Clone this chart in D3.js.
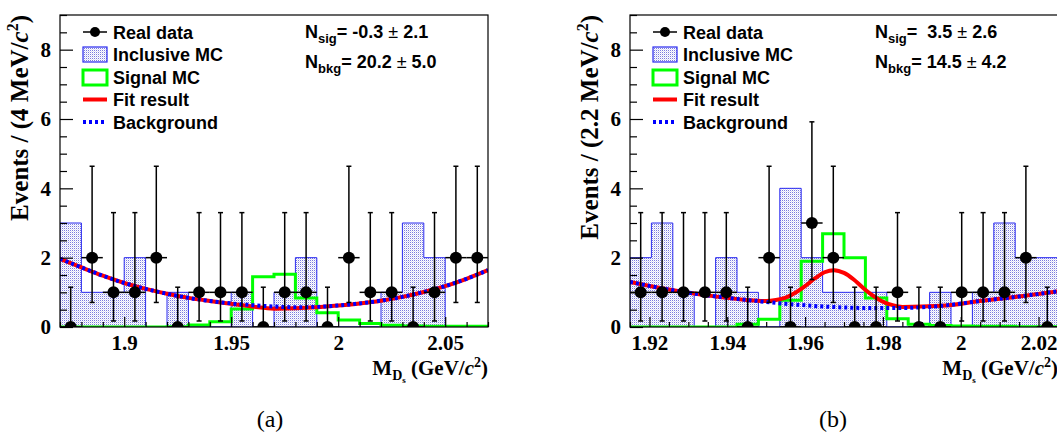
<!DOCTYPE html>
<html><head><meta charset="utf-8">
<script src="https://cdn.jsdelivr.net/npm/d3@7"></script>
<style>body{margin:0;background:#fff} svg{display:block}</style>
</head><body><svg id="c" width="1057" height="443"></svg>
<script>
// ---------------- DATA ----------------
const yTickValues = [0, 2, 4, 6, 8];
const yTickLabels = ["0", "2", "4", "6", "8"];

// Panel (a)
const aXTickValues = [1.9, 1.95, 2.0, 2.05];
const aXTickLabels = ["1.9", "1.95", "2", "2.05"];
const aBinEdges = [1.87,1.88,1.89,1.90,1.91,1.92,1.93,1.94,1.95,1.96,1.97,1.98,1.99,2.00,2.01,2.02,2.03,2.04,2.05,2.06,2.07];
const aDataX = [1.875,1.885,1.895,1.905,1.915,1.925,1.935,1.945,1.955,1.965,1.975,1.985,1.995,2.005,2.015,2.025,2.035,2.045,2.055,2.065];
const aDataY = [0,2,1,1,2,0,1,1,1,0,1,1,0,2,1,1,0,1,2,2];
const aInclusive = [3,1,1,2,0,1,0,0,1,0,1,2,0,0,0,1,3,2,0,0];
const aSignal = [0,0,0,0,0,0.01,0.06,0.15,0.52,1.45,1.52,0.84,0.41,0.20,0.10,0.05,0.03,0.02,0.02,0.02];
const aCurveX = [1.87,1.88,1.89,1.90,1.91,1.92,1.93,1.94,1.95,1.96,1.97,1.98,1.99,2.00,2.01,2.02,2.03,2.04,2.05,2.06,2.07];
const aBkg = [1.97,1.72,1.48,1.27,1.10,0.96,0.84,0.75,0.68,0.63,0.59,0.57,0.58,0.62,0.68,0.76,0.87,1.01,1.18,1.39,1.64];
const aFit = [1.97,1.72,1.48,1.27,1.10,0.96,0.84,0.75,0.67,0.59,0.53,0.54,0.57,0.62,0.68,0.76,0.87,1.01,1.18,1.39,1.64];
const aNsig = "-0.3", aNsigErr = "2.1", aNbkg = "20.2", aNbkgErr = "5.0";

// Panel (b)
const bXTickValues = [1.92, 1.94, 1.96, 1.98, 2.0, 2.02];
const bXTickLabels = ["1.92", "1.94", "1.96", "1.98", "2", "2.02"];
const bBinEdges = [1.915,1.9205,1.926,1.9315,1.937,1.9425,1.948,1.9535,1.959,1.9645,1.97,1.9755,1.981,1.9865,1.992,1.9975,2.003,2.0085,2.014,2.0195,2.025];
const bDataX = [1.91775,1.92325,1.92875,1.93425,1.93975,1.94525,1.95075,1.95625,1.96175,1.96725,1.97275,1.97825,1.98375,1.98925,1.99475,2.00025,2.00575,2.01125,2.01675,2.02225];
const bDataY = [1,1,1,1,1,0,2,0,3,2,0,0,1,0,0,1,1,1,2,0];
const bInclusive = [2,3,1,0,2,1,0,4,2,1,1,1,0,0,1,0,1,3,2,2];
const bSignal = [0,0,0,0,0,0.08,0.22,0.77,1.90,2.69,2.00,0.84,0.24,0.08,0.04,0.03,0.02,0.02,0.01,0.01];
const bBkgX = [1.915,1.925,1.935,1.945,1.955,1.965,1.975,1.985,1.995,2.005,2.015,2.025];
const bBkg = [1.30,1.08,0.91,0.78,0.67,0.59,0.55,0.55,0.61,0.75,0.88,1.03];
const bFitX = [1.915,1.925,1.935,1.945,1.950,1.9525,1.955,1.9575,1.960,1.9625,1.965,1.9675,1.970,1.9725,1.975,1.9775,1.980,1.9825,1.985,1.995,2.005,2.015,2.025];
const bFit = [1.30,1.08,0.91,0.78,0.75,0.78,0.85,0.99,1.18,1.40,1.58,1.64,1.56,1.37,1.12,0.90,0.73,0.63,0.58,0.61,0.75,0.88,1.03];
const bNsig = " 3.5", bNsigErr = "2.6", bNbkg = "14.5", bNbkgErr = "4.2";

// Poisson (68%) interval half-widths by observed count
const poisLow = [0, 0.827, 1.292, 1.633];
const poisHigh = [1.148, 2.299, 2.637, 2.918];

const legendLabels = ["Real data", "Inclusive MC", "Signal MC", "Fit result", "Background"];

// ---------------- DRAW ----------------
const svg = d3.select("#c");
const SERIF = "'Liberation Serif','Times New Roman',serif";
const SANS = "'Liberation Sans',Arial,Helvetica,sans-serif";
const FRAME_TOP = 15, FRAME_BOT = 327, FRAME_W = 428;
const y = d3.scaleLinear().domain([0, 9]).range([FRAME_BOT, FRAME_TOP]);

const defs = svg.append("defs");
const pat = defs.append("pattern").attr("id", "dots").attr("width", 2).attr("height", 2)
  .attr("patternUnits", "userSpaceOnUse");
pat.append("rect").attr("width", 2).attr("height", 2).attr("fill", "#ffffff");
pat.append("rect").attr("x", 0).attr("y", 0).attr("width", 1).attr("height", 1).attr("fill", "#7a7ade");
pat.append("rect").attr("x", 1).attr("y", 1).attr("width", 1).attr("height", 1).attr("fill", "#dcdcf6");

function drawPanel(p) {
  const x = d3.scaleLinear().domain(p.domain).range([p.left, p.left + FRAME_W]);
  const g = svg.append("g");
  const clipId = "clip" + p.id;
  defs.append("clipPath").attr("id", clipId).append("rect")
    .attr("x", p.left).attr("y", FRAME_TOP).attr("width", FRAME_W).attr("height", FRAME_BOT - FRAME_TOP);
  const plot = g.append("g").attr("clip-path", `url(#${clipId})`);

  // Inclusive MC histogram
  const incPts = p.inclusive.map((v, i) => [p.edges[i], v]).concat([[p.edges[p.edges.length - 1], p.inclusive[p.inclusive.length - 1]]]);
  const area = d3.area().x(d => x(d[0])).y0(y(0)).y1(d => y(d[1])).curve(d3.curveStepAfter);
  plot.append("path").attr("d", area(incPts)).attr("fill", "url(#dots)")
    .attr("stroke", "#2a2af0").attr("stroke-width", 1);

  // Signal MC histogram
  const sigPts = p.signal.map((v, i) => [p.edges[i], v]).concat([[p.edges[p.edges.length - 1], p.signal[p.signal.length - 1]]]);
  const line = d3.line().x(d => x(d[0])).y(d => y(d[1])).curve(d3.curveStepAfter);
  plot.append("path").attr("d", line(sigPts)).attr("fill", "none")
    .attr("stroke", "#00ff00").attr("stroke-width", 3);

  // Fit result (red) and background (blue dotted)
  const smooth = d3.line().x(d => x(d[0])).y(d => y(d[1])).curve(d3.curveMonotoneX);
  plot.append("path").attr("d", smooth(p.fitX.map((v, i) => [v, p.fit[i]])))
    .attr("fill", "none").attr("stroke", "#ff0000").attr("stroke-width", 4);
  plot.append("path").attr("d", smooth(p.bkgX.map((v, i) => [v, p.bkg[i]])))
    .attr("fill", "none").attr("stroke", "#0000ff").attr("stroke-width", 4)
    .attr("stroke-dasharray", "3,3");

  // Data points with errors
  const half = (p.edges[1] - p.edges[0]) / 2;
  const dg = plot.append("g").attr("stroke", "#000").attr("stroke-width", 1.5);
  p.dataX.forEach((xv, i) => {
    const n = p.dataY[i];
    const lo = n - poisLow[n], hi = n + poisHigh[n];
    const cx = x(xv);
    dg.append("line").attr("x1", cx).attr("x2", cx).attr("y1", y(lo)).attr("y2", y(hi));
    dg.append("line").attr("x1", cx - 2.5).attr("x2", cx + 2.5).attr("y1", y(hi)).attr("y2", y(hi));
    if (lo > 0) dg.append("line").attr("x1", cx - 2.5).attr("x2", cx + 2.5).attr("y1", y(lo)).attr("y2", y(lo));
    dg.append("line").attr("x1", x(xv - half)).attr("x2", x(xv + half)).attr("y1", y(n)).attr("y2", y(n));
  });
  plot.append("g").selectAll("circle").data(p.dataX).join("circle")
    .attr("cx", d => x(d)).attr("cy", (d, i) => y(p.dataY[i])).attr("r", 6).attr("fill", "#000");

  // Frame
  g.append("rect").attr("x", p.left).attr("y", FRAME_TOP).attr("width", FRAME_W).attr("height", FRAME_BOT - FRAME_TOP)
    .attr("fill", "none").attr("stroke", "#000").attr("stroke-width", 1.2);

  // Y axis
  const yAx = g.append("g").attr("transform", `translate(${p.left},0)`)
    .call(d3.axisLeft(y).tickValues(yTickValues).tickFormat((d, i) => yTickLabels[i]).tickSize(-13).tickPadding(9));
  const yMinor = g.append("g").attr("transform", `translate(${p.left},0)`)
    .call(d3.axisLeft(y).tickValues(d3.range(0, 9.01, 0.5).filter(v => v % 2 !== 0)).tickFormat("").tickSize(-7));
  // X axis
  const xAx = g.append("g").attr("transform", `translate(0,${FRAME_BOT})`)
    .call(d3.axisBottom(x).tickValues(p.xTicks).tickFormat((d, i) => p.xLabels[i]).tickSize(-10).tickPadding(8));
  const minors = d3.range(Math.ceil(p.domain[0] / p.minor - 1e-6), Math.floor(p.domain[1] / p.minor + 1e-6) + 1)
    .map(k => +(k * p.minor).toFixed(4)).filter(v => !p.xTicks.some(t => Math.abs(t - v) < 1e-6));
  const xMinor = g.append("g").attr("transform", `translate(0,${FRAME_BOT})`)
    .call(d3.axisBottom(x).tickValues(minors).tickFormat("").tickSize(-5));
  [yAx, yMinor, xAx, xMinor].forEach(a => {
    a.select(".domain").remove();
    a.selectAll("line").attr("stroke", "#000").attr("stroke-width", 1.2);
    a.selectAll("text").attr("font-family", SERIF).attr("font-weight", "bold").attr("font-size", 21).attr("fill", "#000");
  });

  // Y title
  const yt = g.append("text").attr("transform", `translate(${p.left - 32},${FRAME_TOP}) rotate(-90)`)
    .attr("text-anchor", "end").attr("font-family", SERIF).attr("font-weight", "bold").attr("font-size", 25);
  yt.append("tspan").text(`Events / (${p.binLabel} MeV/`);
  yt.append("tspan").attr("font-style", "italic").text("c");
  yt.append("tspan").attr("font-size", 16).attr("dy", -10).text("2");
  yt.append("tspan").attr("dy", 10).text(")");

  // X title
  const xt = g.append("text").attr("x", p.left + FRAME_W).attr("y", 375)
    .attr("text-anchor", "end").attr("font-family", SERIF).attr("font-weight", "bold").attr("font-size", 21);
  xt.append("tspan").text("M");
  xt.append("tspan").attr("font-size", 14).attr("dy", 5).text("D");
  xt.append("tspan").attr("font-size", 9).attr("dy", 3).text("s");
  xt.append("tspan").attr("dy", -8).text("\u00a0(GeV/");
  xt.append("tspan").attr("font-style", "italic").text("c");
  xt.append("tspan").attr("font-size", 14).attr("dy", -8).text("2");
  xt.append("tspan").attr("dy", 8).text(")");

  // Legend
  const lx = p.left + 23, tx = p.left + 53;
  const lg = g.append("g");
  const rowsY = [32, 54, 77, 99.5, 122];
  lg.append("line").attr("x1", lx).attr("x2", lx + 24).attr("y1", rowsY[0]).attr("y2", rowsY[0]).attr("stroke", "#000").attr("stroke-width", 1.5);
  lg.append("circle").attr("cx", lx + 12).attr("cy", rowsY[0]).attr("r", 5).attr("fill", "#000");
  lg.append("rect").attr("x", lx).attr("y", rowsY[1] - 7).attr("width", 24).attr("height", 15)
    .attr("fill", "url(#dots)").attr("stroke", "#2a2af0").attr("stroke-width", 1.2);
  lg.append("rect").attr("x", lx).attr("y", rowsY[2] - 7).attr("width", 24).attr("height", 15)
    .attr("fill", "#fff").attr("stroke", "#00ff00").attr("stroke-width", 3);
  lg.append("line").attr("x1", lx).attr("x2", lx + 24).attr("y1", rowsY[3]).attr("y2", rowsY[3]).attr("stroke", "#ff0000").attr("stroke-width", 4);
  lg.append("line").attr("x1", lx).attr("x2", lx + 24).attr("y1", rowsY[4]).attr("y2", rowsY[4]).attr("stroke", "#0000ff").attr("stroke-width", 4).attr("stroke-dasharray", "3,3");
  legendLabels.forEach((t, i) => {
    lg.append("text").attr("x", tx).attr("y", rowsY[i] + 6.5).attr("font-family", SANS).attr("font-weight", "bold")
      .attr("font-size", 18).attr("fill", "#000").text(t);
  });

  // Fit yields
  const nx = p.left + 245;
  [[ "sig", p.nsig, p.nsigErr, 38 ], [ "bkg", p.nbkg, p.nbkgErr, 68 ]].forEach(r => {
    const t = g.append("text").attr("x", nx).attr("y", r[3]).attr("font-family", SANS).attr("font-weight", "bold")
      .attr("font-size", 18).attr("fill", "#000").style("white-space", "pre");
    t.append("tspan").text("N");
    t.append("tspan").attr("font-size", 13).attr("dy", 5).text(r[0]);
    t.append("tspan").attr("dy", -5).text("= " + r[1] + " ");
    t.append("tspan").attr("font-weight", "normal").text("\u00b1");
    t.append("tspan").text(" " + r[2]);
  });

  // Caption
  svg.append("text").attr("x", p.captionX).attr("y", 427).attr("text-anchor", "middle")
    .attr("font-family", SERIF).attr("font-size", 24).attr("fill", "#000").text(p.caption);
}

drawPanel({ id: "a", left: 60, domain: [1.87, 2.07], minor: 0.01, xTicks: aXTickValues, xLabels: aXTickLabels,
  edges: aBinEdges, dataX: aDataX, dataY: aDataY, inclusive: aInclusive, signal: aSignal,
  fitX: aCurveX, fit: aFit, bkgX: aCurveX, bkg: aBkg, nsig: aNsig, nsigErr: aNsigErr, nbkg: aNbkg, nbkgErr: aNbkgErr,
  binLabel: "4", caption: "(a)", captionX: 270 });
drawPanel({ id: "b", left: 630, domain: [1.915, 2.025], minor: 0.005, xTicks: bXTickValues, xLabels: bXTickLabels,
  edges: bBinEdges, dataX: bDataX, dataY: bDataY, inclusive: bInclusive, signal: bSignal,
  fitX: bFitX, fit: bFit, bkgX: bBkgX, bkg: bBkg, nsig: bNsig, nsigErr: bNsigErr, nbkg: bNbkg, nbkgErr: bNbkgErr,
  binLabel: "2.2", caption: "(b)", captionX: 833 });
</script>
</body></html>
